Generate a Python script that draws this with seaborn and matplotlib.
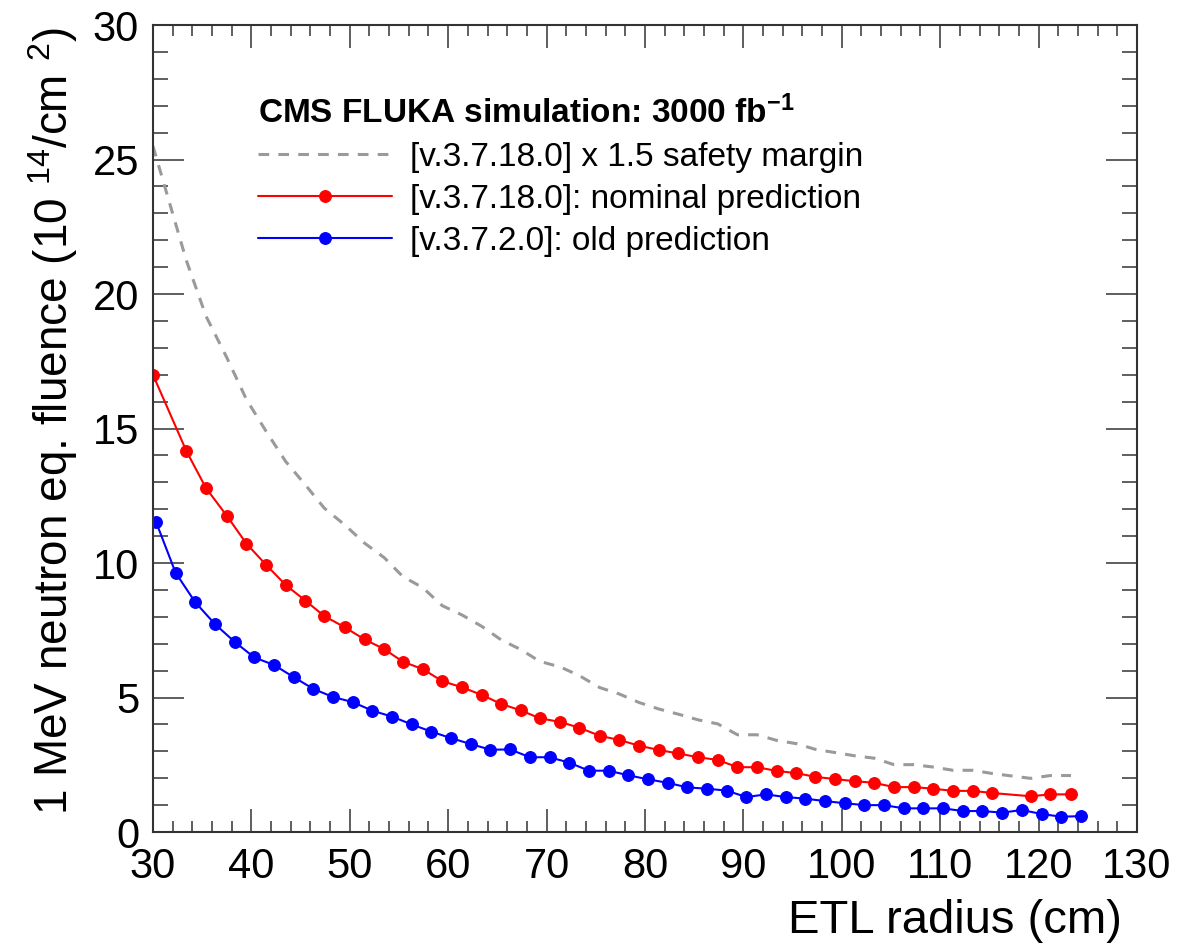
import matplotlib
matplotlib.use("Agg")
import matplotlib.pyplot as plt
from matplotlib.ticker import MultipleLocator
import pandas as pd
import seaborn as sns

sns.set_theme(style="ticks")
plt.rcParams['font.family'] = ['Liberation Sans', 'DejaVu Sans']
plt.rcParams['mathtext.default'] = 'regular'
plt.rcParams['text.color'] = 'black'
plt.rcParams['axes.labelcolor'] = 'black'

# data
# [v.3.7.18.0] nominal prediction
nominal_r = [30.0, 33.4, 35.4, 37.5, 39.5, 41.5, 43.5, 45.5, 47.4, 49.5,
             51.5, 53.5, 55.4, 57.4, 59.4, 61.4, 63.4, 65.4, 67.4, 69.3,
             71.4, 73.3, 75.4, 77.4, 79.4, 81.4, 83.4, 85.4, 87.4, 89.4,
             91.4, 93.4, 95.4, 97.3, 99.3, 101.3, 103.3, 105.3, 107.3, 109.3,
             111.3, 113.3, 115.3, 119.2, 121.2, 123.3]
nominal_flu = [17.0, 14.16, 12.78, 11.76, 10.72, 9.93, 9.18, 8.60, 8.03, 7.61,
               7.16, 6.80, 6.33, 6.06, 5.61, 5.38, 5.10, 4.76, 4.52, 4.23,
               4.09, 3.88, 3.58, 3.42, 3.21, 3.05, 2.92, 2.78, 2.68, 2.41,
               2.41, 2.27, 2.19, 2.05, 1.97, 1.89, 1.83, 1.67, 1.67, 1.61,
               1.53, 1.53, 1.45, 1.33, 1.40, 1.40]

# [v.3.7.2.0] old prediction
old_r = [30.3, 32.3, 34.3, 36.3, 38.3, 40.3, 42.3, 44.3, 46.3, 48.3,
         50.3, 52.3, 54.3, 56.3, 58.3, 60.3, 62.3, 64.3, 66.3, 68.3,
         70.3, 72.3, 74.3, 76.3, 78.3, 80.3, 82.3, 84.3, 86.3, 88.3,
         90.3, 92.3, 94.3, 96.3, 98.3, 100.3, 102.3, 104.3, 106.3, 108.3,
         110.3, 112.3, 114.3, 116.3, 118.3, 120.3, 122.3, 124.3]
old_flu = [11.54, 9.64, 8.54, 7.73, 7.07, 6.49, 6.21, 5.76, 5.32, 5.02,
           4.83, 4.51, 4.29, 4.00, 3.73, 3.49, 3.27, 3.06, 3.07, 2.78,
           2.78, 2.58, 2.28, 2.28, 2.11, 1.96, 1.83, 1.66, 1.61, 1.54,
           1.30, 1.40, 1.30, 1.24, 1.15, 1.07, 1.00, 1.00, 0.88, 0.88,
           0.88, 0.78, 0.78, 0.72, 0.82, 0.67, 0.57, 0.59]

# safety margin curve is the nominal one scaled by the factor in the legend
SAFETY_FACTOR = 1.5
safety_flu = [SAFETY_FACTOR * v for v in nominal_flu]

labels = ["[v.3.7.18.0] x 1.5 safety margin",
          "[v.3.7.18.0]: nominal prediction",
          "[v.3.7.2.0]: old prediction"]

df_safety = pd.DataFrame({"radius": nominal_r, "fluence": safety_flu})
df_nominal = pd.DataFrame({"radius": nominal_r, "fluence": nominal_flu})
df_old = pd.DataFrame({"radius": old_r, "fluence": old_flu})

fig = plt.figure(figsize=(11.82, 9.51), dpi=100)
ax = fig.add_axes([0.1294, 0.1251, 0.8325, 0.8486])

sns.lineplot(data=df_safety, x="radius", y="fluence", ax=ax, color="#9a9a9a",
             linewidth=2.2, linestyle=(0, (3.5, 3.0)), label=labels[0])
sns.lineplot(data=df_nominal, x="radius", y="fluence", ax=ax, color="red",
             linewidth=1.5, marker="o", markersize=8.5, markeredgecolor="red",
             label=labels[1])
sns.lineplot(data=df_old, x="radius", y="fluence", ax=ax, color="blue",
             linewidth=1.5, marker="o", markersize=8.5, markeredgecolor="blue",
             label=labels[2])

ax.set_xlim(30, 130)
ax.set_ylim(0, 30)
ax.xaxis.set_major_locator(MultipleLocator(10))
ax.xaxis.set_minor_locator(MultipleLocator(2))
ax.yaxis.set_major_locator(MultipleLocator(5))
ax.yaxis.set_minor_locator(MultipleLocator(1))

ax.tick_params(which='both', direction='in', top=True, right=True,
               width=1.1, color='#333333', labelcolor='black')
ax.tick_params(axis='x', which='major', length=16.5, labelsize=30, pad=11)
ax.tick_params(axis='x', which='minor', length=8)
ax.tick_params(axis='y', which='major', length=22, labelsize=30, pad=10)
ax.tick_params(axis='y', which='minor', length=11)
for sp in ax.spines.values():
    sp.set_linewidth(1.5)
    sp.set_color('#333333')

ax.set_xlabel("ETL radius (cm)", fontsize=34, loc='right')
ax.xaxis.set_label_coords(0.985, -0.083)
# spaces around the superscripts mimic the ROOT layout of the title
ax.set_ylabel("1 MeV neutron eq. fluence (10 $^{14}$/cm $^{2}$)", fontsize=33,
              loc='top')
ax.yaxis.set_label_coords(-0.074, 0.997)

leg = ax.legend(title="CMS FLUKA simulation: 3000 fb$^{-1}$", loc='upper left',
                bbox_to_anchor=(0.107, 0.912), frameon=False, fontsize=24,
                title_fontproperties={'weight': 'bold', 'size': 24},
                alignment='left', handlelength=4.0, handletextpad=0.55,
                labelspacing=0.33, borderpad=0, borderaxespad=0)
leg.get_title().set_color('black')
for t in leg.get_texts():
    t.set_color('black')

fig.savefig("out.png", dpi=100)
